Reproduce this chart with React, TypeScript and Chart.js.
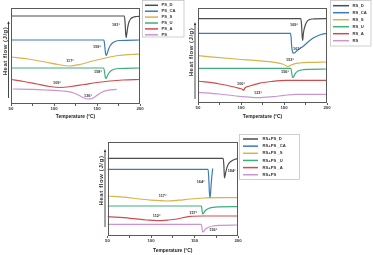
import React, { useEffect, useRef } from 'react';
import { Chart, registerables } from 'chart.js';

Chart.register(...registerables);

type Pt = [number, number];
type Note = { text: string; t: number; v: number };

const FONT = '"Liberation Sans", Arial, sans-serif';
const COLORS = ['#4d4d4d', '#3a7bb8', '#d8b24a', '#41ad7c', '#d04c4c', '#c896d3'];
const X_MIN = 50;
const X_MAX = 200;
const X_STEP = 25;
const X_LABEL_STEP = 50;
const X_TITLE = 'Temperature (°C)';
const Y_TITLE = 'Heat flow (J/g)';

// ---------- Chart 1: PS ----------
const PS_NAMES = ['PS_D', 'PS_CA', 'PS_S', 'PS_U', 'PS_A', 'PS'];
const PS_D: Pt[] = [[50, 88], [181.8, 88], [182.6, 82], [183.4, 70], [183.9, 66.5], [184.6, 70], [185.6, 76], [187, 81.5], [189, 85], [192, 86.8], [196, 87.5], [200, 87.8]];
const PS_CA: Pt[] = [[50, 64], [158, 64], [158.8, 60], [159.8, 51], [160.6, 48.5], [161.8, 50.5], [163.5, 55], [165.5, 58.5], [168, 61], [171, 62.5], [176, 63.5], [200, 64]];
const PS_S: Pt[] = [[50, 47], [70, 45], [90, 42], [105, 39.5], [118, 38], [130, 39.5], [145, 43], [160, 46], [175, 48.5], [190, 49.5], [200, 50]];
const PS_U: Pt[] = [[50, 36], [157.8, 36], [158.6, 33], [159.6, 27], [160.5, 25.5], [161.7, 27.5], [163.5, 30.5], [166, 33], [170, 34.7], [176, 35.5], [200, 36]];
const PS_A: Pt[] = [[50, 24.5], [65, 22.5], [80, 20], [95, 17.5], [108, 16.5], [120, 17.5], [135, 19.5], [150, 21.5], [165, 23], [180, 24], [200, 24.5]];
const PS: Pt[] = [[52, 15], [75, 14.7], [95, 13.8], [110, 13], [120, 11.8], [127, 9.5], [133, 6.8], [139, 5], [144, 5.5], [149, 8], [155, 11.5], [163, 13.8], [173, 14.7]];
const PS_NOTES: Note[] = [
  { text: '181°', t: 172.1, v: 79 },
  { text: '159°', t: 150, v: 57 },
  { text: '117°', t: 118.6, v: 43 },
  { text: '158°', t: 151.2, v: 32.5 },
  { text: '109°', t: 103.5, v: 21.5 },
  { text: '136°', t: 139.5, v: 8 },
];

// ---------- Chart 2: RS ----------
const RS_NAMES = ['RS_D', 'RS_CA', 'RS_S', 'RS_U', 'RS_A', 'RS'];
const RS_D: Pt[] = [[50, 84.3], [169.6, 84.3], [170.4, 78], [171.2, 66], [171.7, 62.5], [172.5, 69.5], [174.8, 78], [177.6, 82.3], [183, 84], [200, 84.3]];
const RS_CA: Pt[] = [[50, 69.7], [157.5, 69.7], [158.2, 66], [159, 56], [160, 51], [161.5, 49.8], [163.5, 51], [166, 53], [169, 54.8], [172, 56.5], [176, 59.5], [180, 62.5], [184, 65], [188, 66.8], [193, 68.5], [200, 69.7]];
const RS_S: Pt[] = [[50, 47.3], [94, 44], [133, 41.3], [148, 39], [152.5, 37.3], [154.5, 36.3], [157, 37.5], [162, 39.2], [168, 40], [180, 40.6], [200, 41]];
const RS_U: Pt[] = [[50, 34.7], [158, 34.7], [158.8, 31], [159.8, 26], [160.6, 25.5], [161.8, 27.3], [164, 30.3], [167, 32.2], [170, 33], [176, 33.7], [200, 34]];
const RS_A: Pt[] = [[50, 22], [75, 19], [98, 14.7], [102, 13.5], [103, 12.5], [104.5, 15], [110, 17], [121, 19.7], [135, 21.5], [152, 22.7], [200, 22.7]];
const RS: Pt[] = [[50, 10.7], [75, 9], [94, 7], [110, 5.8], [120, 5.3], [137, 6.3], [150, 7.6], [164, 8.7], [200, 8.7]];
const RS_NOTES: Note[] = [
  { text: '169°', t: 161.6, v: 78 },
  { text: '161°', t: 165.1, v: 54 },
  { text: '153°', t: 157, v: 43 },
  { text: '156°', t: 151.2, v: 31 },
  { text: '100°', t: 100, v: 19 },
  { text: '123°', t: 119.8, v: 10 },
];

// ---------- Chart 3: RS+PS ----------
const MIX_NAMES = ['RS+PS_D', 'RS+PS _CA', 'RS+PS _S', 'RS+PS _U', 'RS+PS _A', 'RS+PS'];
const MIX_D: Pt[] = [[50, 77.7], [183, 77.7], [183.8, 70], [184.4, 58], [185.5, 62], [187, 67.7], [189, 72], [191, 74], [194.5, 76], [200, 77.7]];
const MIX_CA: Pt[] = [[50, 66.7], [165.6, 66.7], [166.4, 58], [167.1, 44], [167.7, 38.5], [168.4, 42], [169.2, 52], [170.1, 61], [170.9, 67.5]];
const MIX_S: Pt[] = [[50, 40], [70, 38.8], [87, 37], [100, 35.8], [118, 35], [132, 35.8], [145, 37], [160, 38], [180, 38.3], [200, 38.3]];
const MIX_U: Pt[] = [[50, 30], [157.8, 30], [158.5, 27], [159.4, 22], [160.5, 23], [162.5, 25.5], [166, 27.5], [171, 28.7], [178, 29.2], [200, 29.3]];
const MIX_A: Pt[] = [[50, 19.3], [76, 17.7], [95, 16], [106.5, 15.3], [120, 16], [130, 17], [145, 19.7], [160, 20], [200, 20]];
const MIX: Pt[] = [[50, 11.7], [157.8, 11.7], [158.5, 8.5], [159.4, 4], [160.5, 4.5], [162.5, 6.7], [166, 8.7], [171, 10], [178, 10.7], [200, 11]];
const MIX_NOTES: Note[] = [
  { text: '184°', t: 192.7, v: 65.5 },
  { text: '164°', t: 157.1, v: 53.7 },
  { text: '117°', t: 113.4, v: 40 },
  { text: '157°', t: 148.6, v: 23.3 },
  { text: '112°', t: 106.5, v: 20.3 },
  { text: '156°', t: 171.6, v: 6 },
];

const decorPlugin = {
  id: 'decor',
  afterDraw(chart: any, _args: any, o: any) {
    const { ctx, chartArea: a } = chart;
    const xs = chart.scales.x;
    const ys = chart.scales.y;
    ctx.save();

    // frame
    ctx.strokeStyle = '#5a5a5a';
    ctx.lineWidth = 1;
    const l = Math.round(a.left) + 0.5;
    const t = Math.round(a.top) + 0.5;
    const r = Math.round(a.right) - 0.5;
    const b = Math.round(a.bottom) - 0.5;
    ctx.strokeRect(l, t, r - l, b - t);

    // peak notes
    ctx.fillStyle = '#333';
    ctx.font = `bold 3.8px ${FONT}`;
    ctx.textAlign = 'center';
    ctx.textBaseline = 'middle';
    (o.notes as Note[]).forEach((n) => {
      ctx.fillText(n.text, xs.getPixelForValue(n.t), ys.getPixelForValue(n.v));
    });

    // y title
    ctx.save();
    ctx.translate(o.yTitle.x, o.yTitle.y);
    ctx.rotate(-Math.PI / 2);
    ctx.font = `bold 6px ${FONT}`;
    try { (ctx as any).letterSpacing = o.yTitle.spacing; } catch (e) {}
    ctx.fillStyle = '#333';
    ctx.fillText(Y_TITLE, 0, 0);
    ctx.restore();

    // arrow
    const ar = o.arrow;
    ctx.strokeStyle = '#333';
    ctx.fillStyle = '#333';
    ctx.lineWidth = 0.9;
    ctx.beginPath();
    ctx.moveTo(ar.x, ar.y1 + 1);
    ctx.lineTo(ar.x, ar.y2);
    ctx.stroke();
    ctx.beginPath();
    ctx.moveTo(ar.x, ar.y1 - 1);
    ctx.lineTo(ar.x - 1.2, ar.y1 + 2);
    ctx.lineTo(ar.x + 1.2, ar.y1 + 2);
    ctx.closePath();
    ctx.fill();

    // legend
    const lg = o.legend;
    ctx.fillStyle = '#fff';
    ctx.fillRect(lg.x, lg.y, lg.w, lg.h);
    ctx.strokeStyle = '#c4c4c4';
    ctx.lineWidth = 0.8;
    ctx.strokeRect(lg.x, lg.y, lg.w, lg.h);
    ctx.font = `bold ${lg.font}px ${FONT}`;
    ctx.textAlign = 'left';
    ctx.textBaseline = 'middle';
    chart.data.datasets.forEach((ds: any, i: number) => {
      const y = lg.row0 + i * lg.gap;
      ctx.strokeStyle = ds.borderColor;
      ctx.lineWidth = 1.5;
      ctx.beginPath();
      ctx.moveTo(lg.l0, y);
      ctx.lineTo(lg.l1, y);
      ctx.stroke();
      ctx.fillStyle = '#333';
      ctx.fillText(ds.label, lg.tx, y);
    });
    ctx.restore();
  },
};

type Spec = {
  names: string[];
  series: Pt[][];
  notes: Note[];
  yMax: number;
  pad: { left: number; right: number; top: number };
  axisH: number;
  titleBottom: number;
  yTitle: { x: number; y: number; spacing: string };
  arrow: { x: number; y1: number; y2: number };
  legend: { x: number; y: number; w: number; h: number; row0: number; gap: number; l0: number; l1: number; tx: number; font: number };
};

function makeChart(canvas: HTMLCanvasElement, s: Spec) {
  return new Chart(canvas, {
    type: 'line',
    data: {
      datasets: s.series.map((pts, i) => ({
        label: s.names[i],
        data: pts.map(([x, y]) => ({ x, y })),
        borderColor: COLORS[i],
        backgroundColor: COLORS[i],
        borderWidth: 1.2,
        pointRadius: 0,
        fill: false,
        cubicInterpolationMode: 'monotone',
      })),
    },
    options: {
      responsive: false,
      animation: false,
      events: [],
      layout: { padding: { left: s.pad.left, right: s.pad.right, top: s.pad.top, bottom: 0 } },
      plugins: {
        legend: { display: false },
        tooltip: { enabled: false },
        decor: { notes: s.notes, yTitle: s.yTitle, arrow: s.arrow, legend: s.legend },
      } as any,
      scales: {
        x: {
          type: 'linear',
          min: X_MIN,
          max: X_MAX,
          afterFit: (sc: any) => { sc.height = s.axisH; },
          ticks: {
            stepSize: X_STEP,
            autoSkip: false,
            maxRotation: 0,
            padding: 0,
            color: '#333',
            font: { family: FONT, size: 4.3, weight: 'bold' },
            callback: (v: any) => (Number(v) % X_LABEL_STEP === 0 ? String(v) : ''),
          },
          grid: { display: true, drawOnChartArea: false, drawTicks: true, tickLength: 2, color: '#5a5a5a' },
          border: { display: false },
          title: {
            display: true,
            text: X_TITLE,
            color: '#222',
            font: { family: FONT, size: 4.9, weight: 'bold' },
            padding: { top: 0, bottom: s.titleBottom },
          },
        },
        y: { display: false, min: 0, max: s.yMax },
      },
    } as any,
    plugins: [decorPlugin],
  });
}

const SPEC1: Spec = {
  names: PS_NAMES,
  series: [PS_D, PS_CA, PS_S, PS_U, PS_A, PS],
  notes: PS_NOTES,
  yMax: 96,
  pad: { left: 11, right: 46, top: 8 },
  axisH: 21,
  titleBottom: 5,
  yTitle: { x: 5.5, y: 51, spacing: '0.5px' },
  arrow: { x: 8.5, y1: 22, y2: 98 },
  legend: { x: 142.5, y: 0.5, w: 41.5, h: 36.5, row0: 5.3, gap: 5.9, l0: 145, l1: 158, tx: 161.5, font: 4.2 },
};

const SPEC2: Spec = {
  names: RS_NAMES,
  series: [RS_D, RS_CA, RS_S, RS_U, RS_A, RS],
  notes: RS_NOTES,
  yMax: 95,
  pad: { left: 12, right: 46, top: 8 },
  axisH: 22,
  titleBottom: 5,
  yTitle: { x: 5.5, y: 52, spacing: '0.5px' },
  arrow: { x: 9, y1: 23, y2: 99 },
  legend: { x: 144.5, y: 0.5, w: 40.5, h: 45.5, row0: 5.7, gap: 7, l0: 147, l1: 163, tx: 166.5, font: 4.2 },
};

const SPEC3: Spec = {
  names: MIX_NAMES,
  series: [MIX_D, MIX_CA, MIX_S, MIX_U, MIX_A, MIX],
  notes: MIX_NOTES,
  yMax: 94,
  pad: { left: 17.5, right: 72, top: 14 },
  axisH: 19,
  titleBottom: 1,
  yTitle: { x: 11.5, y: 52.5, spacing: '0.6px' },
  arrow: { x: 15, y1: 22, y2: 99 },
  legend: { x: 149.5, y: 6.5, w: 60, h: 45, row0: 11, gap: 7.15, l0: 153, l1: 168, tx: 172.5, font: 4.2 },
};

export default function App() {
  const c1 = useRef<HTMLCanvasElement>(null);
  const c2 = useRef<HTMLCanvasElement>(null);
  const c3 = useRef<HTMLCanvasElement>(null);

  useEffect(() => {
    const charts: Chart[] = [];
    if (c1.current) charts.push(makeChart(c1.current, SPEC1));
    if (c2.current) charts.push(makeChart(c2.current, SPEC2));
    if (c3.current) charts.push(makeChart(c3.current, SPEC3));
    return () => charts.forEach((c) => c.destroy());
  }, []);

  const cs = (left: number, top: number, w: number, h: number): React.CSSProperties => ({
    position: 'absolute', left, top, width: w, height: h, display: 'block',
  });

  return (
    <div style={{ position: 'fixed', left: 0, top: 0, width: 373, height: 255, background: '#fff', overflow: 'hidden' }}>
      <canvas ref={c1} width={186} height={125} style={cs(0, 0, 186, 125)} />
      <canvas ref={c2} width={187} height={125} style={cs(186, 0, 187, 125)} />
      <canvas ref={c3} width={220} height={127} style={cs(90, 128, 220, 127)} />
    </div>
  );
}
